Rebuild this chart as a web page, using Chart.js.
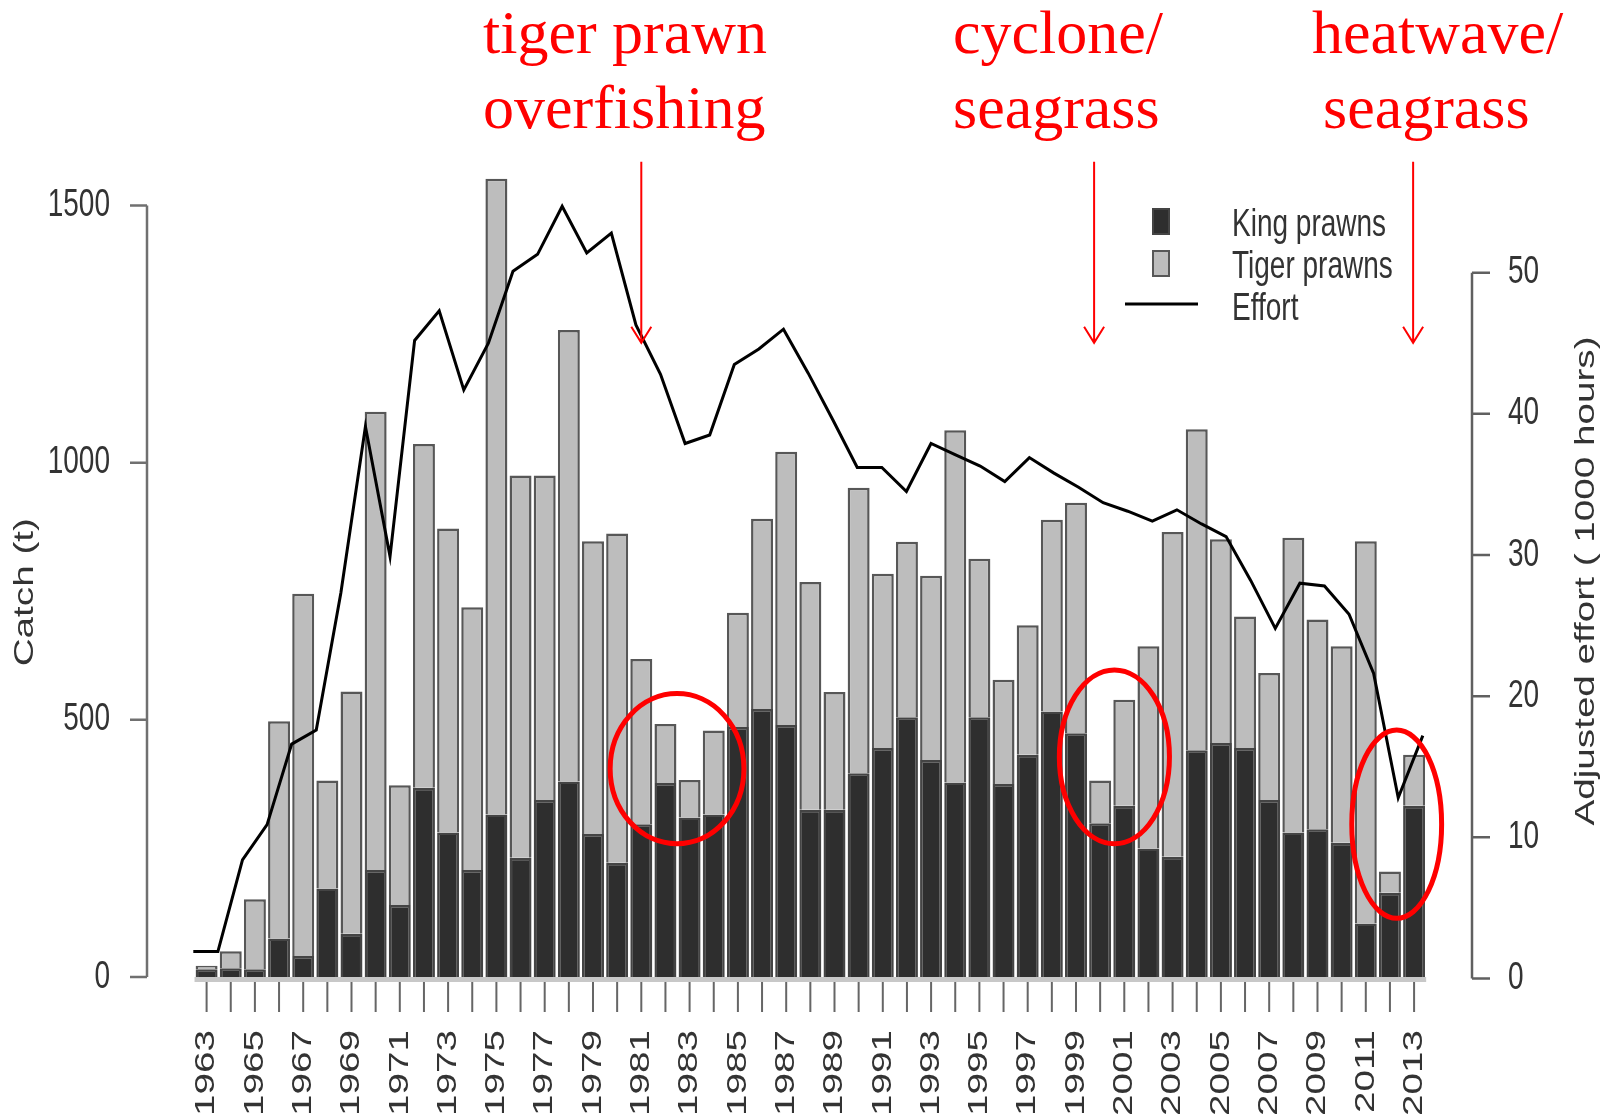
<!DOCTYPE html>
<html>
<head>
<meta charset="utf-8">
<title>Prawn catch and effort</title>
<script src="https://cdn.jsdelivr.net/npm/chart.js@4.4.1/dist/chart.umd.min.js"></script>
<style>
  html, body { margin: 0; padding: 0; background: #fff; }
  #wrap { width: 1614px; height: 1120px; }
</style>
</head>
<body>
<div id="wrap"><canvas id="prawnChart" width="1614" height="1120"></canvas></div>
<script>
// catch (t) per season
var years = [1963, 1964, 1965, 1966, 1967, 1968, 1969, 1970, 1971, 1972,
             1973, 1974, 1975, 1976, 1977, 1978, 1979, 1980, 1981, 1982,
             1983, 1984, 1985, 1986, 1987, 1988, 1989, 1990, 1991, 1992,
             1993, 1994, 1995, 1996, 1997, 1998, 1999, 2000, 2001, 2002,
             2003, 2004, 2005, 2006, 2007, 2008, 2009, 2010, 2011, 2012, 2013];
var kingPrawns = [15, 17, 15, 75, 41, 172, 84, 208, 140, 368,
                  281, 208, 316, 232, 344, 380, 278, 222, 297, 377,
                  310, 316, 486, 521, 490, 325, 325, 396, 445, 505,
                  422, 378, 505, 375, 432, 516, 474, 299, 333, 250,
                  234, 441, 455, 445, 344, 281, 287, 261, 104, 164, 333];
var tigerPrawns = [7, 33, 136, 422, 704, 210, 471, 891, 233, 668,
                   591, 511, 1236, 743, 631, 878, 569, 640, 321, 115,
                   73, 163, 222, 370, 531, 443, 229, 555, 339, 341,
                   358, 685, 308, 203, 252, 373, 448, 83, 206, 393,
                   631, 624, 396, 256, 247, 573, 408, 382, 743, 41, 99];
// adjusted effort (1000 hours)
var effort = [1.9, 1.9, 8.4, 10.9, 16.6, 17.6, 27.3, 39.1, 29.9, 45.2,
              47.3, 41.7, 45.0, 50.1, 51.3, 54.7, 51.4, 52.8, 46.3, 42.8,
              37.9, 38.5, 43.5, 44.6, 46.0, 42.9, 39.6, 36.2, 36.2, 34.5,
              37.9, 37.1, 36.3, 35.2, 36.9, 35.8, 34.8, 33.7, 33.1, 32.4,
              33.2, 32.2, 31.3, 28.2, 24.8, 28.0, 27.8, 25.8, 21.6, 12.8, 17.2];

// axis ticks
var catchTicks = [0, 500, 1000, 1500];
var effortTicks = [0, 10, 20, 30, 40, 50];
var yearLabels = years.filter(function (yr) { return yr % 2 === 1; });

var kingFill = '#2e2e2e', kingEdge = '#444444';
var tigerFill = '#bdbdbd', tigerEdge = '#575757';

// red notes added on top of the plot
var notes = [
    { lines: ['tiger prawn', 'overfishing'], left: [483, 483], arrowYear: 1981,
      ring: { year: 1982.48, value: 405, dx: 2.77, dy: 146 } },
    { lines: ['cyclone/', 'seagrass'], left: [953, 953], arrowYear: 1999.75,
      ring: { year: 2000.59, value: 428, dx: 2.28, dy: 169 } },
    { lines: ['heatwave/', 'seagrass'], left: [1312, 1323], arrowYear: 2012.96,
      ring: { year: 2012.28, value: 297, dx: 1.86, dy: 183 } }
];

var rFont = '28px "Liberation Sans", Arial, sans-serif';
var STRETCH = 1.38; // the original figure is squashed sideways

function drawText(ctx, text, x, y, align, vertical) {
    ctx.save();
    ctx.translate(x, y);
    if (vertical) {
        ctx.rotate(-Math.PI / 2);
        ctx.scale(STRETCH, 1);
    } else {
        ctx.scale(1, STRETCH);
    }
    ctx.textAlign = align;
    ctx.textBaseline = 'middle';
    ctx.fillText(text, 0, 0);
    ctx.restore();
}

// R style axes, legend and the red notes
var rAxes = {
    id: 'rAxes',
    afterDraw: function (chart) {
        var ctx = chart.ctx, area = chart.chartArea;
        var x = chart.scales.x, y = chart.scales.y, y1 = chart.scales.y1;
        ctx.save();
        ctx.font = rFont;
        ctx.fillStyle = '#333';
        ctx.lineCap = 'butt';

        // left axis
        ctx.strokeStyle = '#707070';
        ctx.lineWidth = 2.5;
        ctx.beginPath();
        ctx.moveTo(area.left, y.getPixelForValue(catchTicks[0]));
        ctx.lineTo(area.left, y.getPixelForValue(catchTicks[catchTicks.length - 1]));
        catchTicks.forEach(function (t) {
            var py = y.getPixelForValue(t);
            ctx.moveTo(area.left, py);
            ctx.lineTo(area.left - 17, py);
        });
        ctx.stroke();
        catchTicks.forEach(function (t) {
            drawText(ctx, String(t), area.left - 37, y.getPixelForValue(t), 'right', false);
        });
        drawText(ctx, 'Catch (t)', 25, (y.getPixelForValue(0) + y.getPixelForValue(1500)) / 2 + 1, 'center', true);

        // right axis
        ctx.strokeStyle = '#606060';
        ctx.beginPath();
        ctx.moveTo(area.right, y1.getPixelForValue(effortTicks[0]));
        ctx.lineTo(area.right, y1.getPixelForValue(effortTicks[effortTicks.length - 1]));
        effortTicks.forEach(function (t) {
            var py = y1.getPixelForValue(t);
            ctx.moveTo(area.right, py);
            ctx.lineTo(area.right + 18, py);
        });
        ctx.stroke();
        effortTicks.forEach(function (t) {
            drawText(ctx, String(t), area.right + 36, y1.getPixelForValue(t), 'left', false);
        });
        drawText(ctx, 'Adjusted effort ( 1000 hours)', 1586, 581, 'center', true);

        // bottom axis
        ctx.strokeStyle = '#c8c8c8';
        ctx.lineWidth = 5;
        ctx.beginPath();
        ctx.moveTo(x.getPixelForValue(years[0] - 0.5), area.bottom + 2.5);
        ctx.lineTo(x.getPixelForValue(years[years.length - 1] + 0.5), area.bottom + 2.5);
        ctx.stroke();
        ctx.strokeStyle = '#666';
        ctx.lineWidth = 2;
        ctx.beginPath();
        years.forEach(function (yr) {
            var px = x.getPixelForValue(yr);
            ctx.moveTo(px, area.bottom + 5);
            ctx.lineTo(px, area.bottom + 35);
        });
        ctx.stroke();
        yearLabels.forEach(function (yr) {
            drawText(ctx, String(yr), x.getPixelForValue(yr), area.bottom + 53, 'right', true);
        });

        // legend
        var ds = chart.data.datasets;
        var lx = 1125, ly = 208, step = 42;
        [[kingFill, kingEdge], [tigerFill, tigerEdge]].forEach(function (c, i) {
            ctx.fillStyle = c[0];
            ctx.fillRect(lx + 27, ly + i * step, 18, 27);
            ctx.strokeStyle = c[1];
            ctx.lineWidth = 2;
            ctx.strokeRect(lx + 28, ly + i * step + 1, 16, 25);
        });
        ctx.strokeStyle = '#000';
        ctx.lineWidth = 3;
        ctx.beginPath();
        ctx.moveTo(lx, ly + 96);
        ctx.lineTo(lx + 73, ly + 96);
        ctx.stroke();
        ctx.fillStyle = '#333';
        ds.forEach(function (d, i) {
            drawText(ctx, d.label, lx + 107, ly + 17 + i * step, 'left', false);
        });

        // red notes: text, arrows and rings
        ctx.fillStyle = '#ff0000';
        ctx.strokeStyle = '#ff0000';
        ctx.font = '62px "Liberation Serif", "Times New Roman", serif';
        ctx.textAlign = 'left';
        ctx.textBaseline = 'alphabetic';
        notes.forEach(function (n) {
            ctx.fillText(n.lines[0], n.left[0], 53);
            ctx.fillText(n.lines[1], n.left[1], 128);

            var ax = x.getPixelForValue(n.arrowYear);
            var top = y.getPixelForValue(1585), tip = y.getPixelForValue(1233);
            ctx.lineWidth = 2;
            ctx.beginPath();
            ctx.moveTo(ax, top);
            ctx.lineTo(ax, tip);
            ctx.moveTo(ax - 10, tip - 16);
            ctx.lineTo(ax, tip);
            ctx.lineTo(ax + 10, tip - 16);
            ctx.stroke();

            var r = n.ring;
            var cx = x.getPixelForValue(r.year), cy = y.getPixelForValue(r.value);
            var rx = x.getPixelForValue(r.year + r.dx) - cx;
            var ry = cy - y.getPixelForValue(r.value + r.dy);
            ctx.lineWidth = 5;
            ctx.beginPath();
            ctx.ellipse(cx, cy, rx, ry, 0, 0, Math.PI * 2);
            ctx.stroke();
        });
        ctx.restore();
    }
};

// one tick per season, so bar width follows the one-year spacing
function yearTicks(s) {
    s.ticks = years.map(function (yr) { return { value: yr }; });
}

var ctx = document.getElementById('prawnChart').getContext('2d');
var prawnChart = new Chart(ctx, {
    type: 'bar',
    data: {
        datasets: [{
            label: 'King prawns',
            data: years.map(function (yr, i) { return { x: yr, y: kingPrawns[i] }; }),
            stack: 'catch',
            grouped: false,
            backgroundColor: kingFill,
            borderColor: kingEdge,
            borderWidth: 2.5,
            barPercentage: 0.91,
            categoryPercentage: 1,
            order: 1
        }, {
            label: 'Tiger prawns',
            data: years.map(function (yr, i) { return { x: yr, y: tigerPrawns[i] }; }),
            stack: 'catch',
            grouped: false,
            backgroundColor: tigerFill,
            borderColor: tigerEdge,
            borderWidth: 2.5,
            barPercentage: 0.91,
            categoryPercentage: 1,
            order: 1
        }, {
            type: 'line',
            label: 'Effort',
            data: years.map(function (yr, i) { return { x: yr, y: effort[i] }; }),
            xAxisID: 'x2',
            yAxisID: 'y1',
            borderColor: '#000',
            borderWidth: 3,
            pointRadius: 0,
            tension: 0,
            fill: false,
            order: 0
        }]
    },
    options: {
        responsive: false,
        animation: false,
        layout: { padding: { top: 154, left: 0, right: 0, bottom: 0 } },
        plugins: {
            legend: { display: false },
            tooltip: { enabled: false }
        },
        scales: {
            x: {
                type: 'linear',
                position: 'bottom',
                offset: false,
                min: 1960.532,
                max: 2015.398,
                stacked: true,
                grid: { display: false, offset: false },
                border: { display: false },
                ticks: { display: false },
                afterBuildTicks: yearTicks,
                afterFit: function (s) { s.height = 143; }
            },
            // effort was drawn on its own, slightly wider, x range
            x2: {
                type: 'linear',
                position: 'bottom',
                display: false,
                offset: false,
                grid: { offset: false },
                min: 1961.117,
                max: 2015.0
            },
            y: {
                type: 'linear',
                position: 'left',
                min: 0,
                max: 1600,
                stacked: true,
                grid: { display: false },
                border: { display: false },
                ticks: { display: false },
                afterFit: function (s) { s.width = 147; }
            },
            y1: {
                type: 'linear',
                position: 'right',
                min: 0.1,
                max: 58.41,
                grid: { display: false },
                border: { display: false },
                ticks: { display: false },
                afterFit: function (s) { s.width = 142; }
            }
        }
    },
    plugins: [rAxes]
});
</script>
</body>
</html>
